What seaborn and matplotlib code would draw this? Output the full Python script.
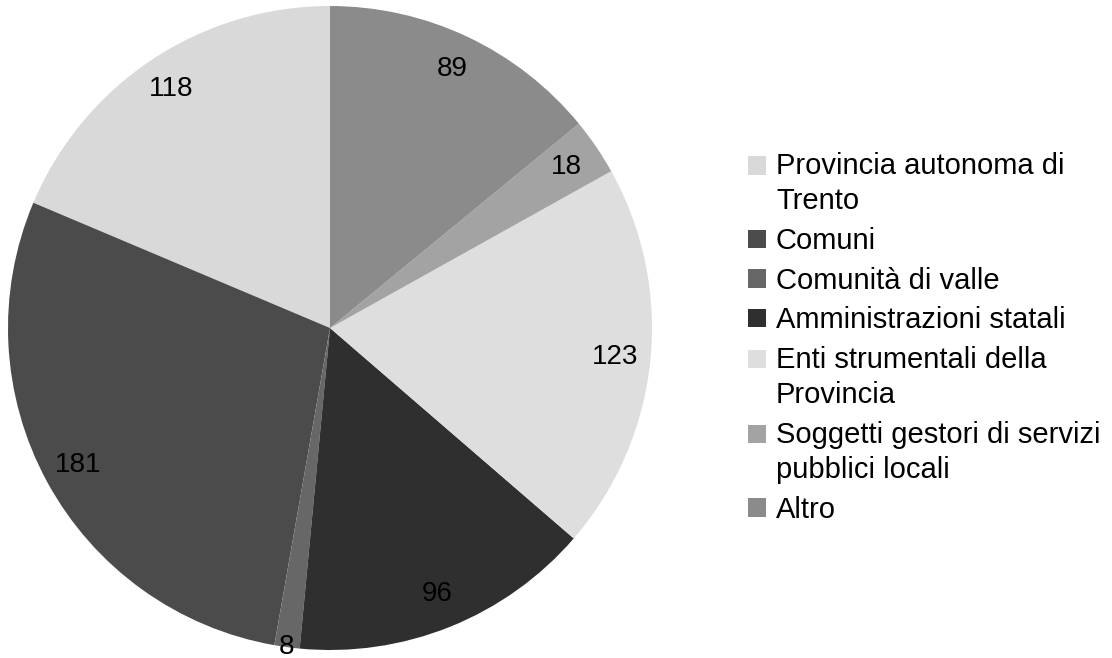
import matplotlib
matplotlib.use("Agg")

import matplotlib.pyplot as plt
import seaborn as sns
import numpy as np

# Data
categories = [
    "Provincia autonoma di\nTrento",
    "Comuni",
    "Comunità di valle",
    "Amministrazioni statali",
    "Enti strumentali della\nProvincia",
    "Soggetti gestori di servizi\npubblici locali",
    "Altro",
]
counts = [118, 181, 8, 96, 123, 18, 89]
colors = ["#d9d9d9", "#4b4b4b", "#676767", "#2f2f2f", "#dedede", "#a3a3a3", "#8b8b8b"]

sns.set_style("white")
plt.rcParams["font.family"] = ["Liberation Sans", "DejaVu Sans"]

fig = plt.figure(figsize=(11.12, 6.58), dpi=100)
ax = fig.add_axes([8 / 1112, 8 / 658, 644 / 1112, 644 / 658])

wedges, texts, autotexts = ax.pie(
    counts,
    colors=colors,
    startangle=90,
    counterclock=True,
    autopct=lambda p: f"{round(p * sum(counts) / 100):d}",
    pctdistance=0.89,
    wedgeprops={"linewidth": 0},
    textprops={"fontsize": 20, "color": "black"},
)

# the tiny slice gets its label on the rim
for w, t, v in zip(wedges, autotexts, counts):
    if v < 10:
        ang = np.deg2rad((w.theta1 + w.theta2) / 2)
        t.set_position((1.0 * np.cos(ang), 1.0 * np.sin(ang)))

ax.set_xlim(-1, 1)
ax.set_ylim(-1, 1)
ax.set_aspect("equal")
ax.axis("off")

leg = fig.legend(
    wedges,
    categories,
    loc="center left",
    bbox_to_anchor=(722 / 1112, 1 - 338 / 658),
    frameon=False,
    fontsize=21,
    labelcolor="black",
    handlelength=0.6,
    handleheight=0.6,
    handletextpad=0.35,
    labelspacing=0.4,
)
for t in leg.get_texts():
    t.set_linespacing(1.32)

# put the square next to the first line of two-line entries
for h, lab in zip(leg.legend_handles, categories):
    if "\n" in lab:
        h.set_y(h.get_y() + 21 * 1.32 / 2)

plt.savefig("out.png", dpi=100)
plt.close()
